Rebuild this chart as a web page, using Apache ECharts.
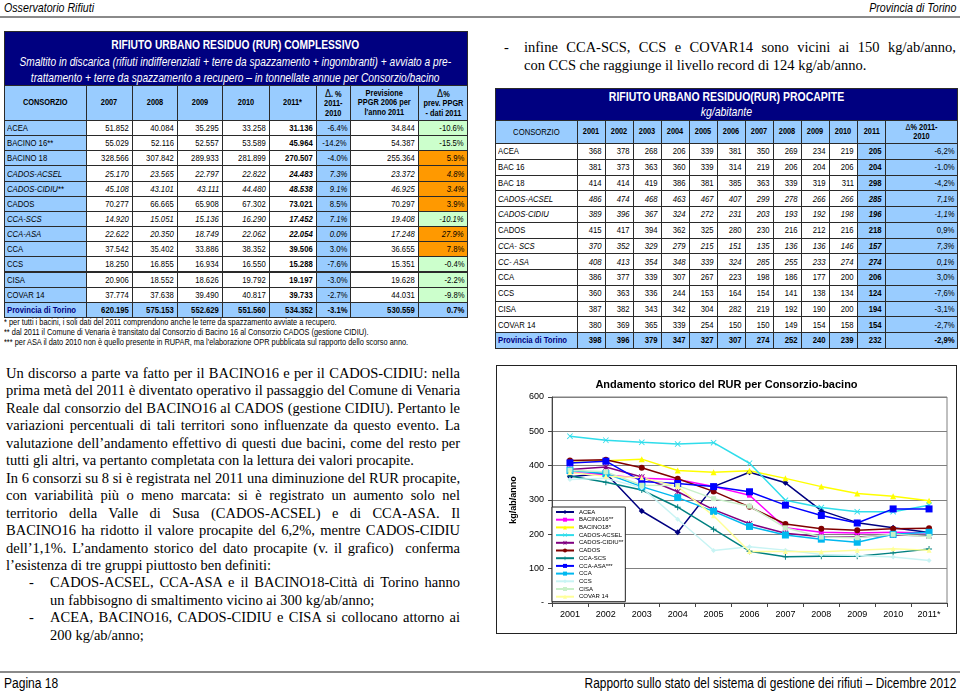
<!DOCTYPE html>
<html><head><meta charset="utf-8">
<script src="https://cdn.jsdelivr.net/npm/echarts@6/dist/echarts.min.js"></script>
<style>
body{margin:0;width:960px;height:693px;position:relative;background:#fff;overflow:hidden;font-family:"Liberation Sans",Arial,sans-serif;color:#000;}
.t{position:absolute;white-space:nowrap;}
.n{display:inline-block;white-space:nowrap;}
.c{position:absolute;box-sizing:border-box;border:1px solid #2a2a2a;display:flex;align-items:center;overflow:hidden;white-space:nowrap;font-size:9px;line-height:1.05;}
.p{position:absolute;font-family:"Liberation Serif","Times New Roman",serif;font-size:14.5px;white-space:nowrap;height:18px;line-height:18px;}
.j{text-align:justify;text-align-last:justify;}
#chart{position:absolute;left:496px;top:365px;width:459px;height:267px;border:1px solid #222;}
</style></head>
<body>
<div id="page"></div>
<div id="chart"></div>
<script>
// ---------- DATA ----------
// chart / per-capita table (kg/abitante)
const years = ['2001','2002','2003','2004','2005','2006','2007','2008','2009','2010','2011*'];
const yearsTable = ['2001','2002','2003','2004','2005','2006','2007','2008','2009','2010','2011'];
const seriesNames = ['ACEA','BACINO16**','BACINO18*','CADOS-ACSEL','CADOS-CIDIU**','CADOS','CCA-SCS','CCA-ASA***','CCA','CCS','CISA','COVAR 14'];
const acea      = [368,378,268,206,339,381,350,269,234,219,205];
const bacino16  = [381,373,363,360,339,314,219,206,204,206,204];
const bacino18  = [414,414,419,386,381,385,363,339,319,311,298];
const cadosAcsel= [486,474,468,463,467,407,299,278,266,266,285];
const cadosCidiu= [389,396,367,324,272,231,203,193,192,198,196];
const cados     = [415,417,394,362,325,280,230,216,212,216,218];
const ccaScs    = [370,352,329,279,215,151,135,136,136,146,157];
const ccaAsa    = [408,413,354,348,339,324,285,255,233,274,274];
const cca       = [386,377,339,307,267,223,198,186,177,200,206];
const ccs       = [360,363,336,244,153,164,154,141,138,134,124];
const cisa      = [387,382,343,342,304,282,219,192,190,200,194];
const covar14   = [380,369,365,339,254,150,150,149,154,158,154];
const provincia = [398,396,379,347,327,307,274,252,240,239,232];
const procapiteNames = ['ACEA','BAC 16','BAC 18','CADOS-ACSEL','CADOS-CIDIU','CADOS','CCA- SCS','CC- ASA','CCA','CCS','CISA','COVAR 14','Provincia di Torino'];
const procapiteDelta = ['-6,2%','-1.0%','-4,2%','7,1%','-1,1%','0,9%','7,3%','0,1%','3,0%','-7,6%','-3,1%','-2,7%','-2,9%'];

// total RUR table (tonnellate)
const tonNames = ['ACEA','BACINO 16**','BACINO 18','CADOS-ACSEL','CADOS-CIDIU**','CADOS','CCA-SCS','CCA-ASA','CCA','CCS','CISA','COVAR 14','Provincia di Torino'];
const ton2007 = [51852,55029,328566,25170,45108,70277,14920,22622,37542,18250,20906,37774,620195];
const ton2008 = [40084,52116,307842,23565,43101,66665,15051,20350,35402,16855,18552,37638,575153];
const ton2009 = [35295,52557,289933,22797,43111,65908,15136,18749,33886,16934,18626,39490,552629];
const ton2010 = [33258,53589,281899,22822,44480,67302,16290,22062,38352,16550,19792,40817,551560];
const ton2011 = [31136,45964,270507,24483,48538,73021,17452,22054,39506,15288,19197,39733,534352];
const delta1110 = [-6.4,-14.2,-4.0,7.3,9.1,8.5,7.1,0.0,3.0,-7.6,-3.0,-2.7,-3.1];
const ppgr2011 = [34844,54387,255364,23372,46925,70297,19408,17248,36655,15351,19628,44031,530559];
const deltaPpgr = [-10.6,-15.5,5.9,4.8,3.4,3.9,-10.1,27.9,7.8,-0.4,-2.2,-9.8,0.7];
const italicRowsTon = [3,4,6,7];
const italicRowsPro = [3,4,6,7];

// ---------- LAYOUT HELPERS ----------
const NARROW = 0.82;
const page = document.getElementById('page');
function el(cls, css, html){const d=document.createElement('div');d.className=cls;d.style.cssText=css;d.innerHTML=html;page.appendChild(d);return d;}
function nw(html, origin, s){return `<span class="n" style="transform:scaleX(${s||NARROW});transform-origin:${origin} center">${html}</span>`;}
function txt(css, html, align, s){
  const o = align==='c'?'center':align==='r'?'right':'left';
  const j = align==='c'?'center':align==='r'?'flex-end':'flex-start';
  return el('t', css+`display:flex;justify-content:${j};`, nw(html,o,s));
}
function cell(x,y,w,h,html,o){
  o=o||{};
  const a=o.align||'r';
  const css=`left:${x}px;top:${y}px;width:${w+1}px;height:${h+1}px;background:${o.bg||'#fff'};`+
    `justify-content:${a==='l'?'flex-start':a==='c'?'center':'flex-end'};`+
    `padding:${a==='l'?'0 0 0 2px':a==='c'?'0':'0 3px 0 0'};`+
    `font-weight:${o.bold?'bold':'normal'};font-style:${o.it?'italic':'normal'};`+
    `text-align:center;`+(o.fs?`font-size:${o.fs}px;`:'')+(o.color?`color:${o.color};`:'');
  return el('c',css,nw(html,a==='l'?'left':a==='c'?'center':'right'));
}
const fmtT = n => String(n).replace(/\B(?=(\d{3})+(?!\d))/g,'.');
const fmtP = v => v.toFixed(1)+'%';
const BLUE='#99CCFF', NAVY='#000080', GREEN='#CCFFCC', ORANGE='#FF9900';

// ---------- PAGE HEADER / FOOTER ----------
txt('left:4px;top:0px;font-size:13px;font-style:italic;line-height:16px;','Osservatorio Rifiuti','l');
txt('right:4px;top:0px;font-size:13px;font-style:italic;line-height:16px;','Provincia di Torino','r');
el('t','left:0;top:16px;width:960px;height:2px;background:#8a8a8a;','');
el('t','left:0;top:671px;width:960px;height:2px;background:#8a8a8a;','');
txt('left:4px;top:675px;font-size:14px;line-height:16px;','Pagina 18','l',0.86);
txt('right:4px;top:675px;font-size:14px;line-height:16px;','Rapporto sullo stato del sistema di gestione dei rifiuti – Dicembre 2012','r',0.85);

// ---------- LEFT TABLE ----------
const LX=[4,86,132,177,222,269,316,350,418,467];
el('c',`left:4px;top:31px;width:464px;height:55px;background:${NAVY};`,'');
txt('left:4px;width:463px;top:37px;color:#fff;font-weight:bold;font-size:12.5px;line-height:16px;','RIFIUTO URBANO RESIDUO (RUR) COMPLESSIVO','c');
txt('left:4px;width:463px;top:54px;color:#fff;font-style:italic;font-size:12.4px;line-height:16px;','Smaltito in discarica (rifiuti indifferenziati + terre da spazzamento + ingombranti) + avviato a pre-','c');
txt('left:4px;width:463px;top:70px;color:#fff;font-style:italic;font-size:12.4px;line-height:16px;','trattamento + terre da spazzamento a recupero – in tonnellate annue per Consorzio/bacino','c');
const D='<span style="font-weight:normal;font-size:11px">Δ</span>';
const hdrL=['CONSORZIO','2007','2008','2009','2010','2011*',D+'. %<br>2011-<br>2010','Previsione<br>PPGR 2006 per<br>l\'anno 2011',D+'%<br>prev. PPGR<br>- dati 2011'];
for(let k=0;k<9;k++) cell(LX[k],85,LX[k+1]-LX[k],35,hdrL[k],{bg:BLUE,align:'c',bold:true,fs:9});
const RH=15.15, RT=120;
for(let i=0;i<13;i++){
  const y=RT+i*RH, it=italicRowsTon.includes(i), tot=(i===12);
  const vals=[tonNames[i],fmtT(ton2007[i]),fmtT(ton2008[i]),fmtT(ton2009[i]),fmtT(ton2010[i]),fmtT(ton2011[i]),fmtP(delta1110[i]),fmtT(ppgr2011[i]),fmtP(deltaPpgr[i])];
  for(let k=0;k<9;k++){
    let bg='#fff';
    if(k===0||k===6||tot) bg=BLUE;
    if(k===8&&!tot) bg = deltaPpgr[i]>0?ORANGE:GREEN;
    cell(LX[k],y,LX[k+1]-LX[k],RH,vals[k],{bg,align:k===0?'l':'r',bold:tot||k===5,it,fs:9.4,color:(tot&&k===0)?NAVY:'#000'});
  }
}
txt('left:4px;top:317px;font-size:9px;line-height:10px;','* per tutti i bacini, i soli dati del 2011 comprendono anche le terre da spazzamento avviate a recupero.','l');
txt('left:4px;top:327px;font-size:9px;line-height:10px;','** dal 2011 il Comune di Venaria è transitato dal Consorzio di Bacino 16 al Consorzio CADOS (gestione CIDIU).','l');
txt('left:4px;top:337px;font-size:9px;line-height:10px;','*** per ASA il dato 2010 non è quello presente in RUPAR, ma l\'elaborazione OPR pubblicata sul rapporto dello scorso anno.','l');

// ---------- RIGHT TABLE ----------
const RX=[495]; for(let k=0;k<=11;k++) RX.push(577+28*k); RX.push(957);
el('c',`left:495px;top:88px;width:463px;height:33px;background:${NAVY};`,'');
txt('left:495px;width:462px;top:89px;color:#fff;font-weight:bold;font-size:12.8px;line-height:15px;','RIFIUTO URBANO RESIDUO(RUR) PROCAPITE','c');
txt('left:495px;width:462px;top:104px;color:#fff;font-style:italic;font-size:12.8px;line-height:15px;','kg/abitante','c');
cell(RX[0],120,RX[1]-RX[0],23,'CONSORZIO',{bg:BLUE,align:'c',fs:9.4});
for(let k=0;k<11;k++) cell(RX[k+1],120,28,23,yearsTable[k],{bg:BLUE,align:'c',bold:true,fs:9});
cell(RX[12],120,RX[13]-RX[12],23,'<span style="font-weight:normal">Δ</span>% 2011-<br>2010',{bg:BLUE,align:'c',bold:true,fs:9});
const proRows=[acea,bacino16,bacino18,cadosAcsel,cadosCidiu,cados,ccaScs,ccaAsa,cca,ccs,cisa,covar14,provincia];
const PH=15.75, PT=143;
for(let i=0;i<13;i++){
  const y=PT+i*PH, it=italicRowsPro.includes(i), tot=(i===12);
  cell(RX[0],y,RX[1]-RX[0],PH,procapiteNames[i],{bg:tot?BLUE:'#fff',align:'l',bold:tot,it,fs:9.4,color:tot?NAVY:'#000'});
  for(let k=0;k<11;k++) cell(RX[k+1],y,28,PH,String(proRows[i][k]),{bg:(tot||k===10)?BLUE:'#fff',bold:tot||k===10,it,fs:9.4});
  cell(RX[12],y,RX[13]-RX[12],PH,procapiteDelta[i],{bg:BLUE,bold:tot,it,fs:9.4});
}

// ---------- TEXT ----------
function line(x,y,w,txt,just){el('p'+(just?' j':''),`left:${x}px;top:${y-9}px;width:${w}px;`,txt);}
const LP=17.45, L0=373;
const L1=[
 ['Un discorso a parte va fatto per il BACINO16 e per il CADOS-CIDIU: nella',1],
 ['prima metà del 2011 è diventato operativo il passaggio del Comune di Venaria',1],
 ['Reale dal consorzio del BACINO16 al CADOS (gestione CIDIU). Pertanto le',1],
 ['variazioni percentuali di tali territori sono influenzate da questo evento. La',1],
 ['valutazione dell’andamento effettivo di questi due bacini, come del resto per',1],
 ['tutti gli altri, va pertanto completata con la lettura dei valori procapite.',0],
 ['In 6 consorzi su 8 si è registrata nel 2011 una diminuzione del RUR procapite,',1],
 ['con variabilità più o meno marcata: si è registrato un aumento solo nel',1],
 ['territorio della Valle di Susa (CADOS-ACSEL) e di CCA-ASA. Il',1],
 ['BACINO16 ha ridotto il valore procapite del 6,2%, mentre CADOS-CIDIU',1],
 ['dell’1,1%. L’andamento storico del dato procapite (v. il grafico)&nbsp; conferma',1],
 ['l’esistenza di tre gruppi piuttosto ben definiti:',0]];
L1.forEach((l,i)=>line(6,L0+i*LP,454,l[0],l[1]));
const B=[
 ['CADOS-ACSEL, CCA-ASA e il BACINO18-Città di Torino hanno',1,1],
 ['un fabbisogno di smaltimento vicino ai 300 kg/ab/anno;',0,0],
 ['ACEA, BACINO16, CADOS-CIDIU e CISA si collocano attorno ai',1,1],
 ['200 kg/ab/anno;',0,0]];
B.forEach((l,i)=>{const y=L0+(12+i)*LP; if(l[2]) line(29,y,10,'-',0); line(50,y,410,l[0],l[1]);});
line(504,47,10,'-',0); line(524,47,432,'infine CCA-SCS, CCS e COVAR14 sono vicini ai 150 kg/ab/anno,',1);
line(524,65,432,'con CCS che raggiunge il livello record di 124 kg/ab/anno.',0);

// ---------- CHART ----------
const colors=['#000080','#FF00FF','#FFFF00','#2FDDEB','#800080','#800000','#008080','#0000FF','#00B8F0','#C8F4F4','#C8F0C8','#FFFF99'];
const X='path://M0,1L1,0L5,4L9,0L10,1L6,5L10,9L9,10L5,6L1,10L0,9L4,5Z';
const STAR='path://M0,1L1,0L5,4L9,0L10,1L6,5L10,9L9,10L5,6L1,10L0,9L4,5Z M4.3,0H5.7V10H4.3Z';
const PLUS='path://M4.2,0H5.8V4.2H10V5.8H5.8V10H4.2V5.8H0V4.2H4.2Z';
const DASH='path://M0,4H10V6H0Z';
const symbols=['diamond','rect','triangle',X,STAR,'circle',PLUS,DASH,DASH,'diamond','rect','triangle'];
const sizes=[6,5,6,6,6,6,6,7,7,5,5,5];
const chartData=[acea,bacino16,bacino18,cadosAcsel,cadosCidiu,cados,ccaScs,ccaAsa,cca,ccs,cisa,covar14];
const FF='"Liberation Sans",Arial,sans-serif';
const chart=echarts.init(document.getElementById('chart'));
chart.setOption({
  animation:false,
  title:{text:'Andamento storico del RUR per Consorzio-bacino',left:'center',top:8,textStyle:{fontFamily:FF,fontSize:11,fontWeight:'bold',color:'#000'}},
  grid:{left:55,top:31,width:395,height:206,show:true,borderColor:'#808080',borderWidth:1,backgroundColor:'#fff'},
  xAxis:{type:'category',data:years,boundaryGap:true,
    axisLine:{lineStyle:{color:'#444',width:1}},
    axisTick:{show:true,length:4,lineStyle:{color:'#444'}},
    axisLabel:{interval:0,fontFamily:FF,fontSize:9,color:'#000',margin:7}},
  yAxis:{type:'value',min:0,max:600,interval:100,name:'kg/ab/anno',nameLocation:'middle',nameGap:33,
    nameTextStyle:{fontFamily:FF,fontSize:9,fontWeight:'bold',color:'#000'},
    axisLine:{show:true,lineStyle:{color:'#444'}},axisTick:{show:true,length:4,lineStyle:{color:'#444'}},
    splitLine:{lineStyle:{color:'#808080',width:1}},
    axisLabel:{formatter:v=>v===0?'-':String(v),fontFamily:FF,fontSize:9,color:'#000',margin:8}},
  legend:{orient:'vertical',left:55,top:141,backgroundColor:'#fff',borderColor:'#222',borderWidth:1,
    padding:[2,2,2,3],itemWidth:18,itemHeight:5,itemGap:1.7,
    textStyle:{fontFamily:FF,fontSize:6,lineHeight:6,color:'#000'},data:seriesNames},
  series:seriesNames.map((n,i)=>({name:n,type:'line',data:chartData[i],symbol:symbols[i],symbolSize:sizes[i],
    lineStyle:{width:1.5,color:colors[i]},itemStyle:{color:colors[i]},emphasis:{disabled:true},silent:true}))
});
</script>
</body></html>
